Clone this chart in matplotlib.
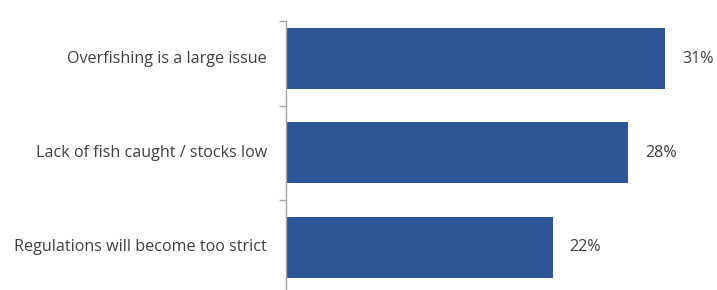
import matplotlib
matplotlib.use("Agg")
import matplotlib.pyplot as plt
from matplotlib.transforms import offset_copy

categories = ["Overfishing is a large issue", "Lack of fish caught / stocks low", "Regulations will become too strict"]
values = [31, 28, 21.8]
value_labels = ["31%", "28%", "22%"]

plt.rcParams['font.family'] = ['Open Sans', 'DejaVu Sans']
W, H = 717, 290
fig = plt.figure(figsize=(W/100, H/100), dpi=100)
ax = fig.add_axes([286/W, 0, (714-286)/W, 1])

bar_color = "#2F5597"
text_color = "#404040"
ypos = list(range(len(categories)))
ax.barh(ypos, values, height=0.645, color=bar_color)
ax.set_xlim(0, 35)
sp = 94.3
top_c = 58.5
ax.set_ylim((H - top_c) / sp, -top_c / sp)

for s in ["top", "right", "bottom"]:
    ax.spines[s].set_visible(False)
ax.spines["left"].set_color("#A6A6A6")
ax.spines["left"].set_linewidth(1.0)
ax.spines["left"].set_bounds((21 - top_c) / sp, (H - top_c) / sp)
ax.set_xticks([])
ax.set_yticks([(21 - top_c) / sp, 0.5, 1.5])
ax.set_yticklabels([])
ax.tick_params(axis="y", length=5, color="#A6A6A6", width=1.0)

for y, lab in zip(ypos, categories):
    ax.text(-19 / (428 / 35), y, lab, ha="right", va="center", fontsize=11.6, color=text_color)
for y, v, lab in zip(ypos, values, value_labels):
    tr = offset_copy(ax.transData, fig=fig, x=17, y=0, units="dots")
    ax.text(v, y, lab, ha="left", va="center", fontsize=11.6, color=text_color, transform=tr)

fig.savefig("out.png", dpi=100)
